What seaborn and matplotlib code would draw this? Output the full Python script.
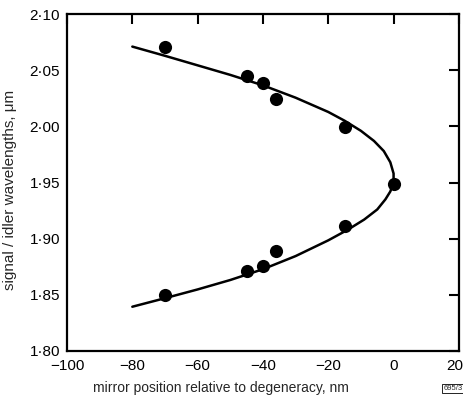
import matplotlib
matplotlib.use("Agg")
import matplotlib.pyplot as plt
import seaborn as sns
import pandas as pd
from matplotlib.ticker import FixedLocator, FuncFormatter
from matplotlib.transforms import ScaledTranslation

# measured points
mirror_pos = [-70, -45, -40, -36, -15, 0, -15, -36, -40, -45, -70]
wavelength = [2.071, 2.045, 2.039, 2.024, 1.999, 1.949, 1.911, 1.889, 1.876, 1.871, 1.850]

# theoretical curve (top branch then bottom branch)
curve_x = [-80, -70, -60, -50, -40, -30, -20, -15, -10, -6, -3, -1, 0, 0,
           -1, -2.5, -5, -9, -14, -20, -30, -40, -50, -60, -70, -80]
curve_y = [2.071, 2.0628, 2.0543, 2.0458, 2.0365, 2.0255, 2.0128, 2.005, 1.996, 1.987, 1.978, 1.968, 1.958, 1.950,
           1.942, 1.935, 1.926, 1.917, 1.908, 1.8985, 1.8845, 1.8728, 1.8632, 1.8548, 1.8470, 1.8394]

x_ticks = [-100, -80, -60, -40, -20, 0, 20]
y_ticks = [1.80, 1.85, 1.90, 1.95, 2.00, 2.05, 2.10]

sns.set_style("white")
plt.rcParams['font.family'] = ['Liberation Sans', 'DejaVu Sans']

fig = plt.figure(figsize=(4.64, 3.97), dpi=100)
ax = fig.add_axes([0.1444, 0.1159, 0.989 - 0.1444, 0.9647 - 0.1159])

pts = pd.DataFrame({"x": mirror_pos, "y": wavelength})
crv = pd.DataFrame({"x": curve_x, "y": curve_y})

sns.lineplot(data=crv, x="x", y="y", sort=False, estimator=None, color="black", lw=1.8, ax=ax)
sns.scatterplot(data=pts, x="x", y="y", color="black", s=90, edgecolor="black", linewidth=0, ax=ax, zorder=3)

ax.set_xlim(-100, 20)
ax.set_ylim(1.80, 2.10)
ax.xaxis.set_major_locator(FixedLocator(x_ticks))
ax.yaxis.set_major_locator(FixedLocator(y_ticks))
ax.xaxis.set_major_formatter(FuncFormatter(lambda v, p: f"{int(v)}".replace("-", "\u2212")))
ax.yaxis.set_major_formatter(FuncFormatter(lambda v, p: f"{v:.2f}".replace(".", "\u00b7")))
ax.tick_params(direction="in", length=7, width=1.5, top=True, right=True,
               labelsize=11, colors="black")
ax.tick_params(axis="x", pad=6)
ax.tick_params(axis="y", pad=5)
for s in ax.spines.values():
    s.set_linewidth(1.6)
    s.set_color("black")

fig.canvas.draw()
xl = ax.get_xticklabels()
xl[-1].set_transform(xl[-1].get_transform() + ScaledTranslation(-4 / 100, 0, fig.dpi_scale_trans))

ax.set_xlabel("mirror position relative to degeneracy, nm", fontsize=10)
ax.xaxis.set_label_coords(0.393, -0.11)
ax.xaxis.label.set_va("center")
ax.set_ylabel("signal / idler wavelengths, \u03bcm", fontsize=11)
ax.yaxis.set_label_coords(-0.128, 0.478)

fig.text(0.976, 0.022, "695/3", fontsize=5.5, ha="center", va="center",
         bbox=dict(boxstyle="square,pad=0.15", fc="white", ec="black", lw=0.6))

fig.savefig("out.png", dpi=100)
